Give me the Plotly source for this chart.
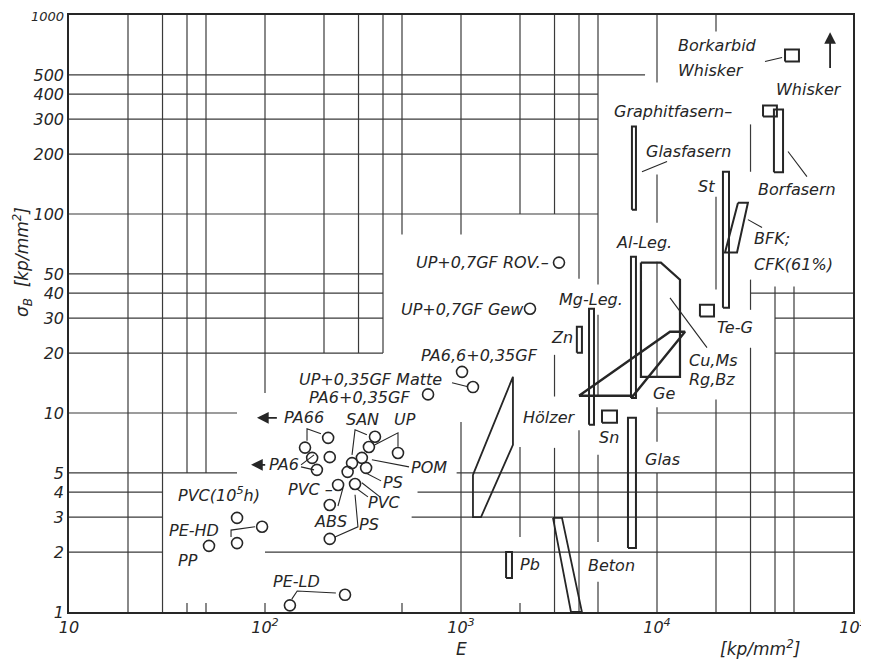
import numpy as np
import plotly.graph_objects as go

INK = "#262626"
FONT = "DejaVu Sans"

# ---------------- grid segments (data units) ----------------
h_grid_y  = [500, 400, 300, 200, 100, 50, 40, 40, 30, 30, 20, 20, 10, 10, 5, 5, 4, 4, 3, 3, 2, 2]
h_grid_x0 = [10, 10, 10, 10, 10, 10, 10, 30000, 10, 40000, 10, 40000, 10, 10000, 10, 950, 10, 600, 10, 560, 10, 100]
h_grid_x1 = [8690, 5000, 5000, 5000, 5000, 400, 400, 1e5, 400, 1e5, 400, 1e5, 72, 1e5, 72, 1e5, 30, 1e5, 30, 1e5, 30, 1e5]

v_grid_x  = [20, 30, 40, 40, 50, 50, 100, 100, 200, 300, 400, 500, 500, 1000, 1000,
             2000, 2000, 2000, 3000, 3000, 3000, 4000, 4000, 5000, 5000, 5000, 5000,
             1e4, 1e4, 1e4, 1e4, 1e4, 2e4, 2e4, 2e4, 3e4, 3e4, 3e4, 4e4, 5e4]
v_grid_y0 = [1, 1, 5, 1, 5, 1, 12.6, 1, 20, 20, 20, 78.8, 1, 78.8, 1,
             100, 2.38, 1, 100, 12.1, 1, 47.3, 1, 44.2, 12.1, 2.25, 1,
             458, 90.5, 15.2, 7.16, 1, 827, 41.7, 1, 163, 33, 1, 1, 1]
v_grid_y1 = [1000, 1000, 1000, 1.11, 1000, 1.11, 1000, 1.11, 1000, 1000, 1000, 1000, 1.11, 1000, 9.0,
             1000, 6.75, 1.11, 1000, 19.6, 6.68, 1000, 8.2, 1000, 31.2, 6.16, 1.42,
             1000, 158, 57.6, 10.7, 5.0, 1000, 122, 11.7, 282, 46.8, 21.3, 43.2, 43.2]

# ---------------- point data (plastics) ----------------
plastic_E     = [72, 96.6, 72, 51.8, 134, 256, 210, 160, 174, 214, 184,
                 364, 339, 312, 278, 328, 264, 477, 236, 288, 214, 214,
                 679, 1012, 1151, 2249, 3162]
plastic_sigma = [2.97, 2.68, 2.22, 2.15, 1.08, 1.22, 7.5, 6.7, 5.95, 6.0, 5.18,
                 7.6, 6.75, 5.95, 5.6, 5.3, 5.06, 6.3, 4.35, 4.4, 3.45, 2.33,
                 12.4, 16.1, 13.5, 33.4, 57]

# ---------------- rectangles: E from..to, sigma from..to ----------------
rect_names = ["Glasfasern", "St", "Borfasern", "Al-Leg", "Mg-Leg", "Zn", "Glas", "Pb",
              "Graphitfasern", "Borkarbid", "Te-G", "Sn"]
rect_E0 = [7450, 21700, 39500, 7365, 4500, 3900, 7110, 1698, 34750, 45000, 16560, 5240]
rect_E1 = [7810, 23300, 43960, 7810, 4770, 4140, 7810, 1820, 40900, 53000, 19540, 6250]
rect_s0 = [105, 33.8, 162, 11.9, 8.72, 20.1, 2.1, 1.48, 309, 584, 30.5, 8.93]
rect_s1 = [275, 163, 335, 61, 33.4, 27.1, 9.46, 2.0, 351, 671, 35, 10.3]

# ---------------- polygons ----------------
hoelzer_E = [1151, 1841, 1841, 1265, 1151, 1151]
hoelzer_s = [4.89, 15.2, 6.92, 3.0, 3.0, 4.89]
beton_E = [2946, 3275, 4140, 3640, 2946]
beton_s = [2.97, 2.97, 1.0, 1.0, 2.97]
ge_E = [4000, 11650, 13900, 7550, 4000]
ge_s = [12.2, 25.6, 25.6, 12.2, 12.2]
cu_E = [8280, 10470, 13100, 13100, 8280, 8280]
cu_s = [57, 57, 46.8, 15.2, 15.2, 57]
bfk_E = [25900, 29100, 25600, 22230, 25900]
bfk_s = [114, 114, 64, 64, 114]

# ---------------- leader lines ----------------
leaders = [
    [(8380, 163), (11250, 183.6)],                       # Glasfasern
    [(35560, 584), (43450, 612)],                        # Borkarbid
    [(46600, 206), (58200, 154)],                        # Borfasern
    [(29100, 93.7), (34350, 85.5)],                      # BFK
    [(11650, 37.9), (17990, 21.3)],                      # Cu
    [(67.1, 2.38), (67.1, 2.58), (88.9, 2.68)],          # PE-HD
    [(137, 1.16), (146, 1.275), (230, 1.246)],           # PE-LD
    [(163.8, 7.25), (163.8, 8.33), (193, 7.86)],         # PA66
    [(152.7, 5.49), (178, 6.16)],                        # PA6
    [(152.7, 5.36), (178, 5.18)],
    [(278, 6.16), (288, 8.23), (331, 7.77)],             # SAN
    [(364, 6.92), (477, 7.95), (477, 6.76)],             # UP
    [(351, 5.82), (543, 5.36)],                          # POM
    [(327, 5.0), (391, 4.56)],                           # PS
    [(294, 4.16), (335, 3.79)],                          # PVC
    [(312, 4.46), (386, 3.79)],
    [(235.7, 3.41), (250, 4.2)],                         # ABS
    [(227.5, 2.38), (298, 2.68), (288, 3.88)],           # PS lower
    [(900, 14.2), (1086, 13.55)],                        # Matte
]

# ---------------- text labels (left edge E, centre sigma) ----------------
label_text = ["PVC(10<sup>5</sup>h)", "PE-HD", "PP", "PE-LD", "PA66", "PA6", "SAN", "UP",
              "POM", "PS", "PVC –", "PVC", "ABS", "PS", "PA6+0,35GF", "UP+0,35GF Matte",
              "PA6,6+0,35GF", "UP+0,7GF Gew", "UP+0,7GF ROV.–", "Mg-Leg.", "Zn", "Al-Leg.",
              "Cu,Ms", "Rg,Bz", "Ge", "Sn", "Glas", "Hölzer", "Pb", "Beton", "Te-G",
              "BFK;", "CFK(61%)", "St", "Glasfasern", "Graphitfasern–", "Whisker",
              "Borkarbid", "Whisker", "Borfasern"]
label_E = [35.6, 32.0, 35.6, 108.6, 123.6, 103.5, 256, 450,
           550, 395, 129.5, 331, 176, 298, 166, 147,
           618, 488, 582, 3126, 2845, 6110,
           14390, 14390, 9420, 5000, 8590, 2047, 1977, 4395, 20000,
           30900, 30900, 16000, 8690, 5970, 40000,
           12650, 12650, 32400]
label_s = [3.88, 2.58, 1.81, 1.42, 9.46, 5.49, 9.25, 9.25,
           5.3, 4.46, 4.11, 3.53, 2.84, 2.74, 12.0, 14.8,
           19.4, 33.0, 57, 37.1, 23.9, 71.8,
           18.4, 14.8, 12.6, 7.5, 5.82, 9.46, 1.74, 1.72, 26.8,
           75.5, 56, 137, 206, 327, 423,
           705, 525, 133]

# arrows: (tip E, tip sigma, tail E, tail sigma)
arrows = [(91, 9.46, 117, 9.46), (84.9, 5.49, 102, 5.49), (76400, 820, 76400, 533)]

x_tickvals = [10, 100, 1000, 1e4, 1e5]
x_ticktext = ["<i>10</i>", "<i>10<sup>2</sup></i>", "<i>10<sup>3</sup></i>",
              "<i>10<sup>4</sup></i>", "<i>10<sup>5</sup></i>"]
y_tickvals = [1, 2, 3, 4, 5, 10, 20, 30, 40, 50, 100, 200, 300, 400, 500, 1000]
y_ticktext = ["<i>1</i>", "<i>2</i>", "<i>3</i>", "<i>4</i>", "<i>5</i>", "<i>10</i>",
              "<i>20</i>", "<i>30</i>", "<i>40</i>", "<i>50</i>", "<i>100</i>", "<i>200</i>",
              "<i>300</i>", "<i>400</i>", "<i>500</i>",
              "<span style='font-size:13px'><i>1000</i></span>"]

fig = go.Figure()

# grid
gx, gy = [], []
for y, a, b in zip(h_grid_y, h_grid_x0, h_grid_x1):
    gx += [a, b, None]
    gy += [y, y, None]
for x, a, b in zip(v_grid_x, v_grid_y0, v_grid_y1):
    gx += [x, x, None]
    gy += [a, b, None]
fig.add_trace(go.Scatter(x=gx, y=gy, mode="lines", line=dict(color="#3a3a3a", width=1.2),
                         hoverinfo="skip", showlegend=False))

# rectangles
rx, ry = [], []
for a, b, c, d in zip(rect_E0, rect_E1, rect_s0, rect_s1):
    rx += [a, b, b, a, a, None]
    ry += [c, c, d, d, c, None]
fig.add_trace(go.Scatter(x=rx, y=ry, mode="lines", line=dict(color=INK, width=2),
                         hoverinfo="skip", showlegend=False))

# polygons
for px_, py_, w in [(hoelzer_E, hoelzer_s, 1.8), (beton_E, beton_s, 1.8), (ge_E, ge_s, 2.4),
                    (cu_E, cu_s, 2.2), (bfk_E, bfk_s, 2.0)]:
    fig.add_trace(go.Scatter(x=px_, y=py_, mode="lines", line=dict(color=INK, width=w),
                             hoverinfo="skip", showlegend=False))

# leaders
lx, ly = [], []
for seg in leaders:
    for (a, b) in seg:
        lx.append(a)
        ly.append(b)
    lx.append(None)
    ly.append(None)
fig.add_trace(go.Scatter(x=lx, y=ly, mode="lines", line=dict(color=INK, width=1.1),
                         hoverinfo="skip", showlegend=False))

# circles
fig.add_trace(go.Scatter(x=plastic_E, y=plastic_sigma, mode="markers",
                         marker=dict(symbol="circle-open", size=11, color=INK,
                                     line=dict(width=1.6, color=INK)),
                         hoverinfo="skip", showlegend=False))

annotations = []
for t, e, s in zip(label_text, label_E, label_s):
    annotations.append(dict(x=np.log10(e), y=np.log10(s), xref="x", yref="y",
                            text=f"<i>{t}</i>", showarrow=False, xanchor="left",
                            yanchor="middle", borderpad=0,
                            font=dict(family=FONT, size=16, color=INK)))
for (te, ts, ae, as_) in arrows:
    annotations.append(dict(x=np.log10(te), y=np.log10(ts), ax=np.log10(ae), ay=np.log10(as_),
                            xref="x", yref="y", axref="x", ayref="y", text="",
                            showarrow=True, arrowhead=2, arrowsize=1.3, arrowwidth=1.8,
                            arrowcolor=INK))
annotations.append(dict(x=0.50, y=-0.062, xref="paper", yref="paper", text="<i>E</i>",
                        xanchor="center", yanchor="middle",
                        showarrow=False, font=dict(family=FONT, size=17, color=INK)))
annotations.append(dict(x=0.881, y=-0.060, xref="paper", yref="paper",
                        text="<i>[kp/mm<sup>2</sup>]</i>", showarrow=False,
                        xanchor="center", yanchor="middle",
                        font=dict(family=FONT, size=17, color=INK)))
annotations.append(dict(x=-0.060, y=0.586, xref="paper", yref="paper",
                        text="<i>σ<sub>B</sub>  [kp/mm<sup>2</sup>]</i>", textangle=-90,
                        xanchor="center", yanchor="middle",
                        showarrow=False, font=dict(family=FONT, size=17, color=INK)))

fig.update_layout(
    width=861, height=651,
    margin=dict(l=61, r=16, t=7, b=47, autoexpand=False),
    paper_bgcolor="white", plot_bgcolor="white",
    showlegend=False,
    annotations=annotations,
    xaxis=dict(type="log", range=[1, 5], showgrid=False, zeroline=False, automargin=False,
               showline=True, mirror=True, linecolor=INK, linewidth=1.6,
               tickvals=x_tickvals, ticktext=x_ticktext, ticks="", ticklabeloverflow="allow",
               tickfont=dict(family=FONT, size=16, color=INK)),
    yaxis=dict(type="log", range=[0, 3], showgrid=False, zeroline=False, automargin=False,
               showline=True, mirror=True, linecolor=INK, linewidth=1.6,
               tickvals=y_tickvals, ticktext=y_ticktext, ticks="",
               ticklabeloverflow="allow",
               tickfont=dict(family=FONT, size=16, color=INK)),
)

fig.write_html("out.html")
